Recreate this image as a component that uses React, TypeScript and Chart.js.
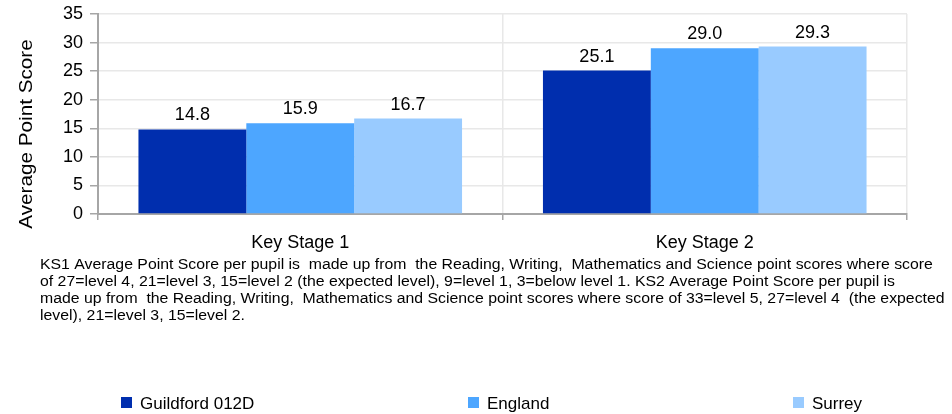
import React, { useEffect, useRef } from "react";
import { Chart, registerables } from "chart.js";

Chart.register(...registerables);

const categories = ["Key Stage 1", "Key Stage 2"];
const seriesNames = ["Guildford 012D", "England", "Surrey"];
const guildfordValues = [14.8, 25.1];
const englandValues = [15.9, 29.0];
const surreyValues = [16.7, 29.3];
const seriesColors = ["#002eae", "#4da6ff", "#99cbff"];
const yAxisTitle = "Average Point Score";
const yMin = 0;
const yMax = 35;
const yStep = 5;
const footnoteLines = [
  "KS1 Average Point Score per pupil is  made up from  the Reading, Writing,  Mathematics and Science point scores where score",
  "of 27=level 4, 21=level 3, 15=level 2 (the expected level), 9=level 1, 3=below level 1. KS2 Average Point Score per pupil is",
  "made up from  the Reading, Writing,  Mathematics and Science point scores where score of 33=level 5, 27=level 4  (the expected",
  "level), 21=level 3, 15=level 2.",
];

const FONT = "'Liberation Sans', Arial, Helvetica, sans-serif";

const overlayPlugin = {
  id: "overlay",
  afterDatasetsDraw(chart: any) {
    const ctx = chart.ctx;
    ctx.save();
    ctx.fillStyle = "#000";
    ctx.font = `18px ${FONT}`;
    ctx.textAlign = "center";
    ctx.textBaseline = "alphabetic";
    chart.data.datasets.forEach((ds: any, i: number) => {
      const meta = chart.getDatasetMeta(i);
      meta.data.forEach((bar: any, j: number) => {
        const v = ds.data[j];
        ctx.fillText(Number(v).toFixed(1), bar.x, bar.y - 9);
      });
    });
    ctx.restore();
  },
  afterDraw(chart: any) {
    const ctx = chart.ctx;
    const area = chart.chartArea;
    ctx.save();
    ctx.fillStyle = "#000";
    ctx.font = `18px ${FONT}`;
    ctx.translate(27, area.bottom - 80);
    ctx.rotate(-Math.PI / 2);
    ctx.scale(1.15, 1);
    ctx.textAlign = "center";
    ctx.textBaseline = "middle";
    ctx.fillText(yAxisTitle, 0, 0);
    ctx.restore();

    // footnote (text in the reference is slightly stretched horizontally)
    ctx.save();
    ctx.fillStyle = "#000";
    ctx.font = `14px ${FONT}`;
    ctx.textAlign = "left";
    ctx.textBaseline = "alphabetic";
    ctx.translate(40, 0);
    ctx.scale(1.13, 1);
    footnoteLines.forEach((line, k) => {
      ctx.fillText(line, 0, area.bottom + 55 + k * 17);
    });
    ctx.restore();

    // legend
    ctx.save();
    const legendX = [121, 468, 793];
    const legendY = 397;
    ctx.font = `17px ${FONT}`;
    ctx.textAlign = "left";
    ctx.textBaseline = "alphabetic";
    chart.data.datasets.forEach((ds: any, i: number) => {
      const x = legendX[i];
      ctx.fillStyle = ds.backgroundColor;
      ctx.fillRect(x, legendY, 11, 11);
      ctx.fillStyle = "#000";
      ctx.fillText(ds.label, x + 19, legendY + 12);
    });
    ctx.restore();
  },
};

export default function App() {
  const canvasRef = useRef<HTMLCanvasElement | null>(null);

  useEffect(() => {
    if (!canvasRef.current) return;
    const seriesValues = [guildfordValues, englandValues, surreyValues];
    const chart = new Chart(canvasRef.current, {
      type: "bar",
      data: {
        labels: categories,
        datasets: seriesNames.map((name, i) => ({
          label: name,
          data: seriesValues[i],
          backgroundColor: seriesColors[i],
          borderWidth: 0,
          categoryPercentage: 0.8,
          barPercentage: 1.0,
        })),
      },
      options: {
        animation: false,
        responsive: false,
        devicePixelRatio: 1,
        layout: { padding: { left: 0, top: 14, right: 45, bottom: 160 } },
        plugins: {
          legend: { display: false },
          tooltip: { enabled: false },
          title: { display: false },
        },
        scales: {
          x: {
            afterFit: (scale: any) => {
              scale.height = 40;
              scale.paddingLeft = 0;
              scale.paddingRight = 0;
            },
            grid: {
              offset: true,
              color: "#e8e8e8",
              lineWidth: 1.5,
              tickColor: "#a6a6a6",
              tickLength: 6,
            },
            border: { color: "#a6a6a6", width: 2 },
            ticks: {
              color: "#000",
              font: { size: 18, family: FONT },
              padding: 12,
            },
          },
          y: {
            min: yMin,
            max: yMax,
            afterFit: (scale: any) => {
              scale.width = 98;
              scale.paddingTop = 0;
              scale.paddingBottom = 0;
            },
            grid: {
              color: "#e8e8e8",
              lineWidth: 1.5,
              tickColor: "#a6a6a6",
              tickLength: 8,
            },
            border: { color: "#a6a6a6", width: 2 },
            ticks: {
              stepSize: yStep,
              color: "#000",
              font: { size: 18, family: FONT },
              padding: 7,
            },
          },
        },
      },
      plugins: [overlayPlugin],
    });
    return () => chart.destroy();
  }, []);

  return (
    <div style={{ position: "fixed", left: 0, top: 0, width: 952, height: 414, background: "#fff" }}>
      <canvas ref={canvasRef} width={952} height={414} />
    </div>
  );
}
